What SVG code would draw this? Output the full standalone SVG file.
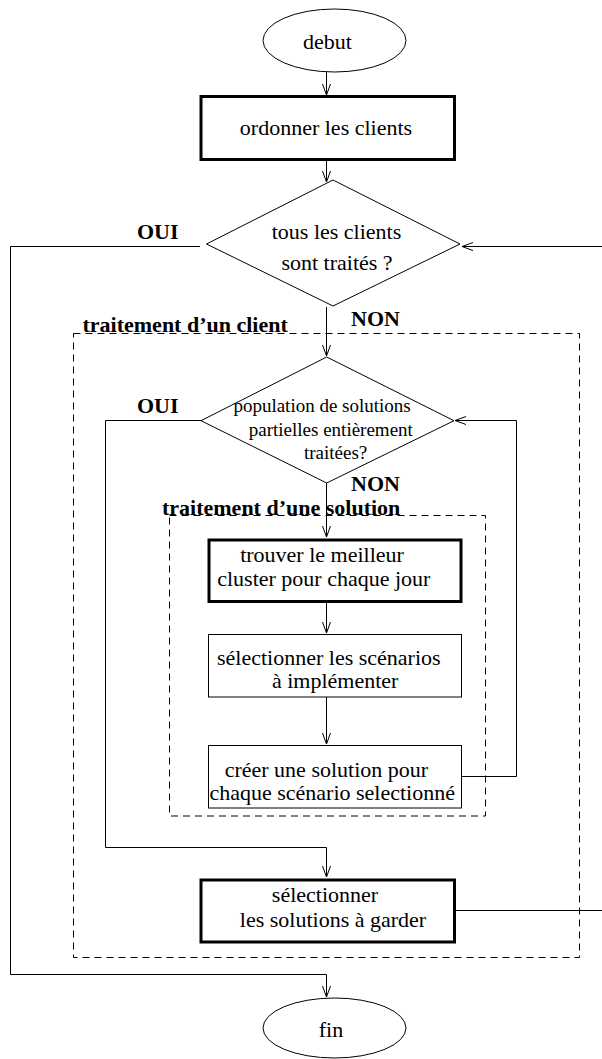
<svg xmlns="http://www.w3.org/2000/svg" width="602" height="1059" viewBox="0 0 602 1059">
<defs>
<style>
.t{font-family:"Liberation Serif","Times New Roman",serif;font-size:22px;fill:#000}
.s{font-size:19px}
.b{font-weight:bold}
.thin{fill:#fff;stroke:#000;stroke-width:1}
.thick{fill:#fff;stroke:#000;stroke-width:3}
.dash{fill:none;stroke:#000;stroke-width:1;stroke-dasharray:7,5}
.c{fill:none;stroke:#000;stroke-width:1}
</style>
<marker id="ar" markerUnits="userSpaceOnUse" markerWidth="14" markerHeight="12" viewBox="-12 -6 14 12" refX="0" refY="0" orient="auto">
<path d="M-11,-4 L0,0 L-11,4" fill="none" stroke="#000" stroke-width="1"/>
</marker>
</defs>
<rect width="602" height="1059" fill="#fff"/>

<g id="cluster-client">
<rect class="dash" x="73.5" y="333.5" width="506" height="624"/>
<text class="t b" x="82.5" y="332">traitement d’un client</text>
</g>
<g id="cluster-solution">
<rect class="dash" x="169.5" y="515.5" width="316" height="300.5"/>
<text class="t b" x="162" y="515">traitement d’une solution</text>
</g>

<g id="connectors">
<line class="c" x1="326.5" y1="72" x2="326.5" y2="95" marker-end="url(#ar)"/>
<line class="c" x1="326.5" y1="161" x2="326.5" y2="182" marker-end="url(#ar)"/>
<line class="c" x1="326.5" y1="307" x2="326.5" y2="356" marker-end="url(#ar)"/>
<line class="c" x1="326.5" y1="483" x2="326.5" y2="537" marker-end="url(#ar)"/>
<line class="c" x1="326.5" y1="603" x2="326.5" y2="633" marker-end="url(#ar)"/>
<line class="c" x1="326.5" y1="697" x2="326.5" y2="744" marker-end="url(#ar)"/>
<polyline class="c" points="200,246.5 10.5,246.5 10.5,974.5 326.5,974.5 326.5,997" marker-end="url(#ar)"/>
<polyline class="c" points="201,420.5 105.5,420.5 105.5,847.5 326.5,847.5 326.5,877" marker-end="url(#ar)"/>
<polyline class="c" points="462,776.5 516.5,776.5 516.5,420.5 455,420.5" marker-end="url(#ar)"/>
<line class="c" x1="456" y1="910.5" x2="602" y2="910.5"/>
<line class="c" x1="602" y1="246.5" x2="462" y2="246.5" marker-end="url(#ar)"/>
<text class="t b" x="137" y="239">OUI</text>
<text class="t b" x="351" y="326">NON</text>
<text class="t b" x="137" y="412.5">OUI</text>
<text class="t b" x="351" y="491">NON</text>
</g>

<g id="debut">
<ellipse class="thin" cx="334.5" cy="40.5" rx="71.5" ry="31.5"/>
<text class="t" x="327.5" y="49" text-anchor="middle">debut</text>
</g>
<g id="ordonner">
<rect class="thick" x="201" y="96.5" width="253.5" height="63"/>
<text class="t" x="326" y="135" text-anchor="middle">ordonner les clients</text>
</g>
<g id="tous-clients">
<polygon class="thin" points="333,180 460,244 333,306 206.5,244"/>
<text class="t" x="336.5" y="239" text-anchor="middle">tous les clients</text>
<text class="t" x="337" y="270" text-anchor="middle">sont traités ?</text>
</g>
<g id="population">
<polygon class="thin" points="326.7,357 454,420.7 326.7,483 201,420.7"/>
<text class="t s" x="233.4" y="412">population de solutions</text>
<text class="t s" x="248.8" y="436">partielles entièrement</text>
<text class="t s" x="304" y="459">traitées?</text>
</g>
<g id="trouver">
<rect class="thick" x="209" y="540" width="252" height="61.5"/>
<text class="t" x="322" y="562" text-anchor="middle">trouver le meilleur</text>
<text class="t" x="323.8" y="586" text-anchor="middle">cluster pour chaque jour</text>
</g>
<g id="selectionner-scenarios">
<rect class="thin" x="208.5" y="634.5" width="253" height="62.5"/>
<text class="t" x="328.8" y="665" text-anchor="middle">sélectionner les scénarios</text>
<text class="t" x="335.2" y="688" text-anchor="middle">à implémenter</text>
</g>
<g id="creer">
<rect class="thin" x="208.5" y="745.5" width="253" height="62.5"/>
<text class="t" x="326.4" y="776.5" text-anchor="middle">créer une solution pour</text>
<text class="t" x="332.2" y="799.5" text-anchor="middle">chaque scénario selectionné</text>
</g>
<g id="selectionner-solutions">
<rect class="thick" x="201" y="880" width="253.5" height="62"/>
<text class="t" x="325" y="901.5" text-anchor="middle">sélectionner</text>
<text class="t" x="333" y="926.5" text-anchor="middle">les solutions à garder</text>
</g>
<g id="fin">
<ellipse class="thin" cx="334.5" cy="1028" rx="71.5" ry="30"/>
<text class="t" x="331" y="1037" text-anchor="middle">fin</text>
</g>
</svg>
